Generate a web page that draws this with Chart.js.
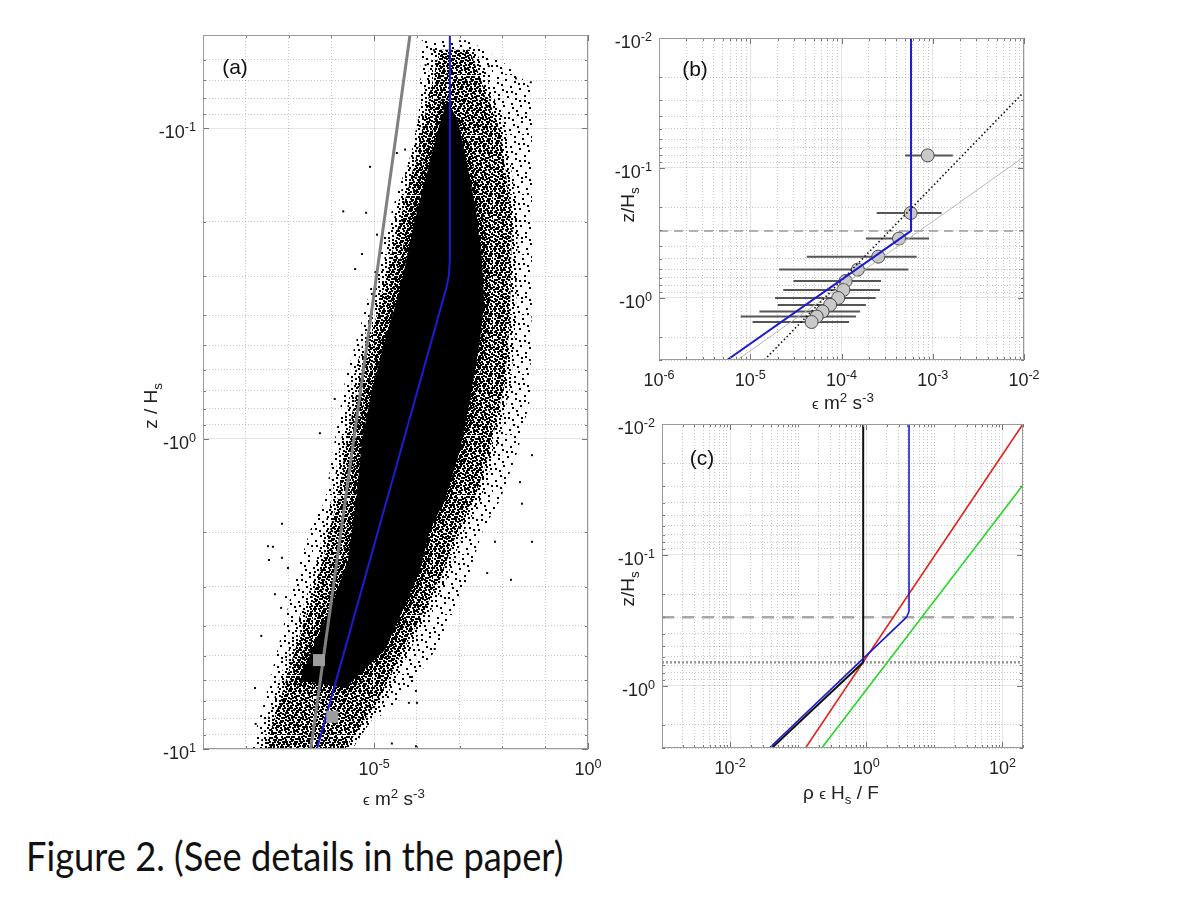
<!DOCTYPE html>
<html>
<head>
<meta charset="utf-8">
<script src="https://cdn.jsdelivr.net/npm/chart.js@4.4.1/dist/chart.umd.min.js"></script>
<style>
  body { margin: 0; background: #fff; }
  #page { position: relative; width: 1200px; height: 900px; overflow: hidden; background: #fff;
          font-family: "Liberation Sans", Arial, sans-serif; color: #222; }
  canvas { position: absolute; }
  .t { position: absolute; font-size: 19px; white-space: nowrap; transform: translate(-50%, -50%); }
  .rot { transform: translate(-50%, -50%) rotate(-90deg); }
  .lab { position: absolute; font-size: 21px; transform: translate(-50%, -50%); color: #111; }
  .tk { position: absolute; font-size: 18px; white-space: nowrap; color: #222; line-height: 20px; }
  sup, sub { font-size: 70%; line-height: 0; }
  .eps { font-size: 15px; }
  #caption { position: absolute; left: 26px; top: 832px; font-family: Lato, "Open Sans", sans-serif;
             font-weight: 400; font-size: 40px; color: #111; white-space: nowrap; transform-origin: 0 0; }
</style>
</head>
<body>
<div id="page">
  <canvas id="ca" width="475" height="774" style="left:133px; top:15px;"></canvas>
  <canvas id="cb" width="455" height="382" style="left:589px; top:18px;"></canvas>
  <canvas id="cc" width="451" height="384" style="left:592px; top:404px;"></canvas>

  <div class="lab" style="left:235px; top:67px;">(a)</div>
  <div class="lab" style="left:695px; top:69px;">(b)</div>
  <div class="lab" style="left:702px; top:458px;">(c)</div>

  <div class="t rot" style="left:151px; top:406px;">z / H<sub>s</sub></div>
  <div class="t" style="left:394px; top:799px;"><span class="eps">ϵ</span> m<sup>2</sup> s<sup>-3</sup></div>
  <div class="t rot" style="left:628px; top:205px;">z/H<sub>s</sub></div>
  <div class="t" style="left:843px; top:403px;"><span class="eps">ϵ</span> m<sup>2</sup> s<sup>-3</sup></div>
  <div class="t rot" style="left:628px; top:589px;">z/H<sub>s</sub></div>
  <div class="t" style="left:841px; top:793px;">ρ <span class="eps">ϵ</span> H<sub>s</sub> / F</div>

  <div id="caption">Figure 2. (See details in the paper)</div>
</div>
<script>
// ---------- panel (a): dissipation vs depth, scatter cloud ----------
// cloud outlines (eps, |z/Hs|), drawn as filled shapes
const cloudOuterEps = [1.3e-4, 1.2e-4, 1.07e-4, 3.1e-5, 1.37e-5, 6.1e-6, 2.1e-6, 1.1e-6, 7.1e-7, 3.2e-7, 1.4e-7, 6.3e-8, 2.8e-8, 1.26e-8,
                       1.6e-6, 4.0e-5, 2.0e-4, 5.9e-4, 1.5e-3, 3.5e-3, 8.8e-3, 0.023, 0.044, 0.049, 0.049, 0.049, 0.0196, 1.7e-3];
const cloudOuterZ   = [0.052, 0.070, 0.101, 0.17, 0.247, 0.385, 0.647, 1.09, 1.58, 1.97, 2.85, 4.45, 6.95, 10,
                       10, 6.95, 5.17, 3.84, 2.85, 1.97, 1.58, 1.09, 0.75, 0.357, 0.17, 0.075, 0.065, 0.052];
const cloudMidEps = [3.47e-4, 1.82e-4, 1.06e-4, 4.0e-5, 1.23e-5, 4.2e-6, 2.1e-6, 1.43e-6, 9.3e-7, 4.9e-7, 1.66e-7, 6.3e-8, 2.8e-8,
                     2.1e-6, 1.23e-5, 5.3e-5, 3.47e-4, 9.1e-4, 2.3e-3, 5.1e-3, 0.0115, 0.015, 0.0167, 8.8e-3, 1.7e-3];
const cloudMidZ   = [0.0558, 0.081, 0.117, 0.197, 0.385, 0.661, 1.09, 1.54, 1.97, 2.85, 4.45, 6.95, 10,
                     10, 6.95, 4.69, 2.85, 1.97, 1.54, 1.09, 0.661, 0.406, 0.197, 0.101, 0.0558];
const cloudCoreEps = [5.06e-4, 3.11e-4, 1.55e-4, 9.0e-5, 4.0e-5, 1.8e-5, 8.9e-6, 5.2e-6, 3.8e-6, 2.45e-6, 1.04e-6, 3.5e-7, 1.85e-7,
                      2.08e-6, 1.8e-5, 5.3e-5, 1.18e-4, 2.02e-4, 4.5e-4, 1.02e-3, 1.74e-3, 3.0e-3, 3.7e-3, 3.3e-3, 2.41e-3,
                      1.41e-3, 9.1e-4];
const cloudCoreZ   = [0.081, 0.101, 0.147, 0.197, 0.332, 0.481, 0.697, 1.01, 1.58, 2.46, 3.43, 4.80, 6.0,
                      6.36, 4.80, 3.43, 2.65, 1.97, 1.58, 1.09, 0.75, 0.481, 0.357, 0.265, 0.183,
                      0.126, 0.094];
const outlierEps = [2.5e-4, 1.6e-4, 4.8e-3, 0.0207, 0.046, 8.0e-6, 1.9e-6, 6.5e-6, 5.2e-6, 3.6e-6, 5.3e-5, 3.4e-5, 1.17e-5,
                    5.4e-7, 1.2e-6, 0.0257, 0.049, 7.0e-8, 3.3e-8, 4.3e-8, 3.5e-8, 7.0e-8, 9.7e-8, 4.8e-8, 8.7e-8, 6.7e-8,
                    2.3e-8, 0.049, 0.0286, 0.0158, 6.7e-3, 4.4e-3, 2.6e-4, 9.5e-5, 6.5e-5, 9.5e-5, 1.0e-4, 6.9e-5, 2.6e-5,
                    1.64e-8, 1.7e-8];
const outlierZ   = [0.056, 0.0625, 0.063, 0.069, 0.071, 0.133, 0.185, 0.187, 0.254, 0.284, 0.117, 0.12, 0.22,
                    0.96, 0.745, 1.38, 1.13, 1.88, 2.22, 2.23, 2.46, 2.42, 2.61, 3.17, 3.24, 3.51,
                    4.32, 2.15, 1.62, 2.85, 2.15, 2.71, 4.76, 6.5, 7.1, 9.8, 7.1, 5.86, 9.6,
                    6.36, 8.3];
const grayFitAEps = [6.9e-5, 3.3e-7];
const grayFitAZ   = [0.05, 10];
const modelAEps = [5.9e-4, 5.9e-4, 5.6e-4, 4.97e-4, 4.6e-7];
const modelAZ   = [0.05, 0.265, 0.298, 0.324, 10];
const squareEps = [5.15e-7, 1.05e-6];
const squareZ   = [5.17, 7.87];

// ---------- panel (b): bin averages ----------
const binEps = [8.8e-4, 5.73e-4, 4.27e-4, 2.53e-4, 1.51e-4, 1.11e-4, 1.05e-4, 9.2e-5, 7.5e-5, 6.2e-5, 5.35e-5, 4.7e-5];
const binZ   = [0.080, 0.222, 0.349, 0.481, 0.605, 0.740, 0.867, 1.0, 1.13, 1.27, 1.39, 1.53];
const binLo  = [4.97e-4, 2.43e-4, 1.85e-4, 4.16e-5, 2.07e-5, 2.97e-5, 2.30e-5, 1.87e-5, 2.0e-5, 1.26e-5, 7.85e-6, 1.06e-5];
const binHi  = [1.66e-3, 1.25e-3, 9.1e-4, 6.67e-4, 5.4e-4, 2.71e-4, 2.64e-4, 2.37e-4, 1.85e-4, 1.6e-4, 1.44e-4, 1.21e-4];
const modelBEps = [5.78e-4, 5.78e-4, 5.57e-6];
const modelBZ   = [0.01, 0.305, 3];
const dottedBEps = [1.43e-5, 1e-2];
const dottedBZ   = [3, 0.026];
const grayBEps = [7.2e-6, 1e-2];
const grayBZ   = [3, 0.082];
const breakZ = 0.305;

// ---------- panel (c): scaled profiles ----------
const blackCX = [0.9, 0.9, 0.041];
const blackCZ = [0.01, 0.664, 3];
const blueCX  = [4.24, 4.24, 3.9, 0.0377];
const blueCZ  = [0.01, 0.27, 0.3, 3];
const redCX   = [0.128, 200];
const redCZ   = [3, 0.01];
const greenCX = [0.222, 200];
const greenCZ = [3, 0.0292];
const dashedCZ = 0.3;
const dottedCZ = 0.664;

// ---------- labelled ticks (powers of ten) ----------
const xTicksA = [1e-5, 1];
const yTicksA = [0.1, 1, 10];
const xTicksB = [1e-6, 1e-5, 1e-4, 1e-3, 1e-2];
const yTicksB = [0.01, 0.1, 1];
const xTicksC = [1e-2, 1, 100];
const yTicksC = [0.01, 0.1, 1];

const BLUE = '#1c1cd2';
const page = document.getElementById('page');

function pts(xs, ys) { return xs.map((x, i) => ({ x: x, y: ys[i] })); }

function sameVal(a, b) { return Math.abs(Math.log10(a) - Math.log10(b)) < 1e-6; }

// grid positions: every decade, optionally with the 2..9 minors
function logGrid(min, max, minor, labelled) {
  const out = [];
  for (let e = Math.floor(Math.log10(min)); e <= Math.ceil(Math.log10(max)); e++) {
    const steps = minor ? [1, 2, 3, 4, 5, 6, 7, 8, 9] : [1];
    for (const m of steps) {
      const v = m * Math.pow(10, e);
      if (v >= min * 0.999 && v <= max * 1.001) {
        out.push({ value: v, major: labelled.some(t => sameVal(t, v)) });
      }
    }
  }
  return out;
}

function logAxis(pos, min, max, minor, tickVals, size, reverse) {
  return {
    type: 'logarithmic', position: pos, min: min, max: max, reverse: reverse,
    afterBuildTicks: s => { s.ticks = logGrid(min, max, minor, tickVals); },
    afterFit: s => { if (pos === 'left') s.width = size; else s.height = size; },
    grid: {
      drawTicks: false, lineWidth: 1,
      color: c => (c.tick && c.tick.major) ? 'rgba(0,0,0,0.10)' : 'rgba(0,0,0,0.22)'
    },
    border: { display: false, dash: c => (c.tick && !c.tick.major) ? [1, 2] : [] },
    ticks: { display: false, autoSkip: false }
  };
}

// box around the plot with small inward tick marks
const boxPlugin = {
  id: 'box',
  afterDraw(chart) {
    const { ctx, chartArea: a, scales } = chart;
    ctx.save();
    ctx.strokeStyle = '#777';
    ctx.lineWidth = 1;
    ctx.beginPath();
    scales.x.ticks.forEach(t => {
      const p = Math.round(scales.x.getPixelForValue(t.value)) + 0.5;
      const L = t.major ? 6 : 3;
      ctx.moveTo(p, a.bottom); ctx.lineTo(p, a.bottom - L);
      ctx.moveTo(p, a.top); ctx.lineTo(p, a.top + L);
    });
    scales.y.ticks.forEach(t => {
      const p = Math.round(scales.y.getPixelForValue(t.value)) + 0.5;
      const L = t.major ? 6 : 3;
      ctx.moveTo(a.left, p); ctx.lineTo(a.left + L, p);
      ctx.moveTo(a.right, p); ctx.lineTo(a.right - L, p);
    });
    ctx.stroke();
    ctx.strokeStyle = '#9a9a9a';
    ctx.strokeRect(a.left + 0.5, a.top + 0.5, a.right - a.left - 1, a.bottom - a.top - 1);
    ctx.restore();
  }
};

function baseOptions(xAxis, yAxis) {
  return {
    responsive: false, animation: false, devicePixelRatio: 1,
    layout: { padding: { top: 20, right: 20, left: 0, bottom: 0 } },
    plugins: { legend: { display: false }, tooltip: { enabled: false } },
    scales: { x: xAxis, y: yAxis }
  };
}

function lineSet(data, color, width, dash, order) {
  return { data: data, showLine: true, borderColor: color, borderWidth: width, borderDash: dash || [],
           pointRadius: 0, fill: false, order: order };
}

// speckle texture for the scatter cloud (fixed low-discrepancy layout)
function speckle(ctx, count) {
  const size = 60;
  const c = document.createElement('canvas');
  c.width = size; c.height = size;
  const g = c.getContext('2d');
  g.fillStyle = '#000';
  for (let i = 1; i <= count; i++) {
    const x = Math.floor(((i * 0.7548776662) % 1) * size);
    const y = Math.floor(((i * 0.5698402910) % 1) * size);
    g.fillRect(x, y, 2, 2);
  }
  return ctx.createPattern(c, 'repeat');
}

// tick labels as html text with real superscripts, placed from the chart's scales
function tickLabels(chart, canvas, axis, vals, neg) {
  const sc = chart.scales[axis];
  const a = chart.chartArea;
  vals.forEach(v => {
    const d = document.createElement('div');
    d.className = 'tk';
    d.innerHTML = (neg ? '-' : '') + '10<sup>' + Math.round(Math.log10(v)) + '</sup>';
    const p = sc.getPixelForValue(v);
    if (axis === 'x') {
      d.style.left = (canvas.offsetLeft + p) + 'px';
      d.style.top = (canvas.offsetTop + a.bottom + 10) + 'px';
      d.style.transform = 'translateX(-50%)';
    } else {
      d.style.right = (1200 - canvas.offsetLeft - a.left + 7) + 'px';
      d.style.top = (canvas.offsetTop + p - 6) + 'px';
    }
    page.appendChild(d);
  });
}

// ----- panel (a)
const cvA = document.getElementById('ca');
const ctxA = cvA.getContext('2d');
const chartA = new Chart(ctxA, {
  type: 'scatter',
  data: {
    datasets: [
      { data: pts(squareEps, squareZ), pointStyle: 'rect', pointRadius: 8.5, backgroundColor: '#9c9c9c',
        borderWidth: 0, order: 0 },
      lineSet(pts(modelAEps, modelAZ), BLUE, 2, null, 1),
      lineSet(pts(grayFitAEps, grayFitAZ), '#808080', 3, null, 2),
      { data: pts(outlierEps, outlierZ), pointStyle: 'rect', pointRadius: 1.4, backgroundColor: '#000',
        borderWidth: 0, order: 3 },
      { data: pts(cloudCoreEps, cloudCoreZ), showLine: true, fill: 'shape', backgroundColor: '#000',
        borderColor: speckle(ctxA, 760), borderWidth: 12, borderJoinStyle: 'round', pointRadius: 0, order: 4 },
      { data: pts(cloudMidEps, cloudMidZ), showLine: true, fill: 'shape', backgroundColor: speckle(ctxA, 560),
        borderColor: speckle(ctxA, 260), borderWidth: 12, borderJoinStyle: 'round', pointRadius: 0, order: 5 },
      { data: pts(cloudOuterEps, cloudOuterZ), showLine: true, fill: 'shape', backgroundColor: speckle(ctxA, 100),
        borderWidth: 0, pointRadius: 0, order: 6 }
    ]
  },
  options: baseOptions(logAxis('bottom', 1e-9, 1, false, xTicksA, 40, false),
                       logAxis('left', 0.05, 10, true, yTicksA, 70, true)),
  plugins: [boxPlugin]
});
tickLabels(chartA, cvA, 'x', xTicksA, false);
tickLabels(chartA, cvA, 'y', yTicksA, true);

// ----- panel (b)
const cvB = document.getElementById('cb');
const errorBars = binZ.map((z, i) => lineSet([{ x: binLo[i], y: z }, { x: binHi[i], y: z }], '#555', 2, null, 5));
const chartB = new Chart(cvB, {
  type: 'scatter',
  data: {
    datasets: [
      lineSet(pts(modelBEps, modelBZ), BLUE, 2, null, 0),
      lineSet(pts(dottedBEps, dottedBZ), '#111', 1.6, [1.5, 2.5], 1),
      lineSet(pts(grayBEps, grayBZ), '#b8b8b8', 1, null, 2),
      { data: pts(binEps, binZ), pointStyle: 'circle', pointRadius: 6.5, backgroundColor: '#c9c9c9',
        borderColor: '#4a4a4a', borderWidth: 1, order: 3 },
      lineSet([{ x: 1e-6, y: breakZ }, { x: 1e-2, y: breakZ }], '#9a9a9a', 1.6, [9, 6], 6)
    ].concat(errorBars)
  },
  options: baseOptions(logAxis('bottom', 1e-6, 1e-2, true, xTicksB, 40, false),
                       logAxis('left', 0.01, 3, true, yTicksB, 70, true)),
  plugins: [boxPlugin]
});
tickLabels(chartB, cvB, 'x', xTicksB, false);
tickLabels(chartB, cvB, 'y', yTicksB, true);

// ----- panel (c)
const cvC = document.getElementById('cc');
const chartC = new Chart(cvC, {
  type: 'scatter',
  data: {
    datasets: [
      lineSet(pts(blueCX, blueCZ), BLUE, 1.6, null, 0),
      lineSet(pts(blackCX, blackCZ), '#111', 2, null, 1),
      lineSet(pts(redCX, redCZ), '#e4201c', 1.6, null, 2),
      lineSet(pts(greenCX, greenCZ), '#22d822', 1.6, null, 3),
      lineSet([{ x: 1e-3, y: dashedCZ }, { x: 200, y: dashedCZ }], '#a8a8a8', 2.6, [12, 8], 4),
      lineSet([{ x: 1e-3, y: dottedCZ }, { x: 200, y: dottedCZ }], '#9a9a9a', 2.6, [2, 2], 5)
    ]
  },
  options: baseOptions(logAxis('bottom', 1e-3, 200, true, xTicksC, 40, false),
                       logAxis('left', 0.01, 3, true, yTicksC, 70, true)),
  plugins: [boxPlugin]
});
tickLabels(chartC, cvC, 'x', xTicksC, false);
tickLabels(chartC, cvC, 'y', yTicksC, true);

// fit the caption to its width in the picture
const cap = document.getElementById('caption');
cap.style.transform = 'scaleX(' + (538 / cap.offsetWidth).toFixed(3) + ')';
</script>
</body>
</html>
